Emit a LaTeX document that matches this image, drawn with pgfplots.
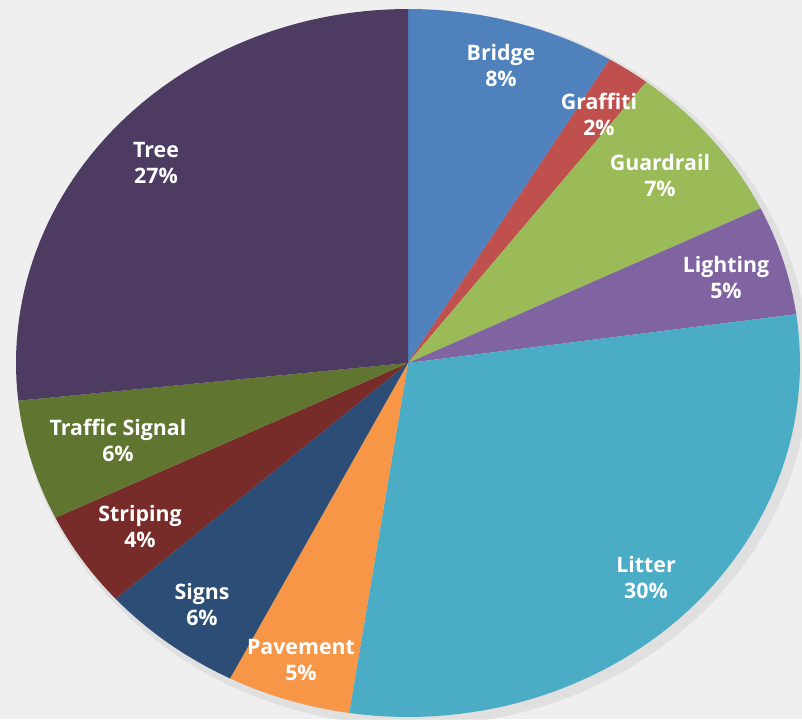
\documentclass[border=0pt]{standalone}
\usepackage{fontspec}
\setmainfont{Open Sans}
\usepackage{pgfplots}
\pgfplotsset{compat=1.18}
\definecolor{cBridge}{HTML}{4F81BD}
\definecolor{cGraffiti}{HTML}{C0504D}
\definecolor{cGuardrail}{HTML}{9BBB59}
\definecolor{cLighting}{HTML}{8064A2}
\definecolor{cLitter}{HTML}{4BACC6}
\definecolor{cPavement}{HTML}{F79646}
\definecolor{cSigns}{HTML}{2C4D75}
\definecolor{cStriping}{HTML}{772C2A}
\definecolor{cTraffic}{HTML}{5F7530}
\definecolor{cTree}{HTML}{4D3B62}
\definecolor{bg}{HTML}{EFEFEF}
% slice shares (percent):
% Bridge 8.6, Graffiti 1.8, Guardrail 7.4, Lighting 5.0, Litter 29.6,
% Pavement 5.1, Signs 5.9, Striping 4.4, Traffic Signal 5.5, Tree 26.7
\newcommand{\slice}[3]{% color, start%, end% (cumulative, clockwise from top)
  \addplot[fill=#1, draw=none, domain={90-3.6*#3}:{90-3.6*#2}, samples=60, variable=\t]
    ({408+392*cos(\t)},{719-363+354*sin(\t)}) -- (408,356) -- cycle;}
\begin{document}
\begin{tikzpicture}
\useasboundingbox (0,0) rectangle (601.5pt,539.25pt);
\begin{axis}[at={(0,0)}, anchor=south west, scale only axis,
  width=601.5pt, height=539.25pt, xmin=0, xmax=802, ymin=0, ymax=719,
  hide axis, clip=true]
\fill[bg] (0,0) rectangle (802,719);
\fill[gray!35, opacity=0.5] (413,351) ellipse [x radius=396, y radius=358];
\slice{cBridge}{0}{8.6}
\slice{cGraffiti}{8.6}{10.4}
\slice{cGuardrail}{10.4}{17.8}
\slice{cLighting}{17.8}{22.8}
\slice{cLitter}{22.8}{52.4}
\slice{cPavement}{52.4}{57.5}
\slice{cSigns}{57.5}{63.4}
\slice{cStriping}{63.4}{67.8}
\slice{cTraffic}{67.8}{73.3}
\slice{cTree}{73.3}{100}
\begin{scope}[every node/.style={text=white, font=\fontsize{16}{19.5}\selectfont\bfseries, align=center}]
\node at (501,653.5) {Bridge\\8\%};
\node at (599,604.5) {Graffiti\\2\%};
\node at (660,543.5) {Guardrail\\7\%};
\node at (726,442) {Lighting\\5\%};
\node at (646,141.5) {Litter\\30\%};
\node at (301,59.5) {Pavement\\5\%};
\node at (202,115) {Signs\\6\%};
\node at (140,192.5) {Striping\\4\%};
\node at (118,279) {Traffic Signal\\6\%};
\node at (156,556) {Tree\\27\%};
\end{scope}
\end{axis}
\end{tikzpicture}
\end{document}
